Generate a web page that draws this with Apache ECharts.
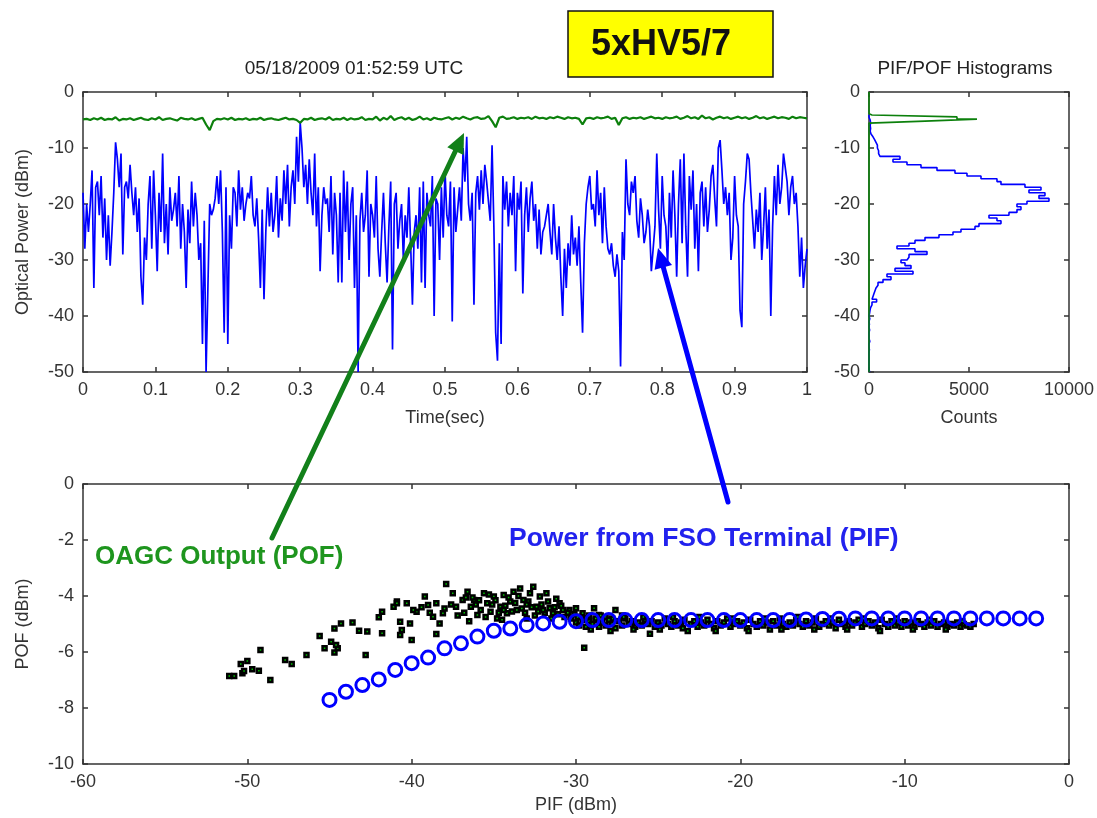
<!DOCTYPE html>
<html><head><meta charset="utf-8">
<script src="https://cdn.jsdelivr.net/npm/echarts@6/dist/echarts.min.js"></script>
<style>html,body{margin:0;padding:0;background:#fff}#c{width:1097px;height:818px}</style>
</head><body><div id="c"></div>
<script>
// ---- data ----
const timeStep = 0.0025; // sec between PIF samples
const pifTrace = [
-18,-28,-20,-25, -20,-14,-35,-17, -16,-22,-15,-26, -19,-30,-22,-31, -25,-18,-9,-12,
-17,-11,-29,-17, -16,-19,-13,-18, -22,-17,-25,-19, -33,-38,-26,-30, -20,-15,-28,-14,
-22,-32,-18,-25, -11,-27,-20,-29, -17,-23,-21,-18, -24,-15,-28,-20, -25,-35,-21,-27,
-16,-24,-18,-22, -30,-27,-45,-23, -50,-35,-20,-22, -21,-19,-15,-20, -14,-25,-43,-17,
-45,-22,-28,-17, -18,-24,-14,-21, -17,-23,-20,-18, -19,-15,-22,-24, -19,-26,-35,-21,
-37,-25,-17,-24, -18,-25,-22,-15, -26,-19,-23,-14, -20,-13,-24,-17, -14,-20,-8,-16,
-5.5,-10,-17,-13, -20,-12,-18,-22, -11,-24,-17,-32, -22,-17,-20,-19, -25,-15,-29,-18,
-22,-34,-18,-34, -14,-25,-16,-30, -20,-17,-35,-22, -50,-23,-18,-25, -22,-14,-33,-20,
-22,-26,-15,-28, -33,-25,-18,-27, -34,-24,-16,-46, -20,-18,-28,-23, -20,-30,-22,-26,
-17,-27,-38,-25, -22,-28,-17,-34, -16,-35,-18,-22, -24,-15,-40,-19, -20,-30,-17,-26,
-14,-22,-24,-16, -41,-17,-25,-21, -17,-23,-10,-16, -8,-20,-23,-18, -38,-18,-15,-21,
-14,-20,-13,-16, -16,-23,-9.5,-24, -43,-48,-27,-45, -15,-21,-16,-24, -18,-22,-15,-32,
-18,-21,-16,-36, -22,-17,-25,-19, -16,-23,-20,-28, -21,-29,-25,-24, -24,-20,-25,-29,
-20,-26,-30,-24, -33,-40,-28,-35, -27,-31,-22,-29, -26,-31,-24,-34, -43,-27,-20,-17,
-15,-21,-20,-24, -14,-22,-18,-27, -17,-24,-28,-29, -27,-31,-33,-29, -32,-49,-25,-30,
-12,-20,-22,-16, -18,-15,-23,-26, -19,-22,-27,-25, -21,-24,-32,-28, -24,-11,-21,-28,
-15,-22,-24,-31, -18,-26,-14,-22, -33,-20,-12,-27, -11,-24,-33,-15, -21,-14,-28,-20,
-32,-18,-16,-24, -17,-25,-21,-15, -13,-19,-24,-10, -8.6,-14,-20,-17, -22,-18,-30,-26,
-15,-22,-24,-39, -42,-20,-16,-11, -12,-18,-23,-28, -21,-25,-18,-30, -24,-17,-28,-21,
-40,-24,-15,-22, -13,-20,-17,-11, -11,-16,-22,-17, -15,-20,-18,-24, -33,-26,-35,-31,
-28];
const pofStep = 0.005; // sec between POF samples
const pofTrace = [
-4.9,-4.8,-5.0,-4.7,-4.9,-4.6,-5.0,-4.8,-4.9,-4.5,-5.1,-4.8,-4.9,-4.7,-5.0,-4.8,-4.6,-4.9,-5.0,-4.7,
-4.9,-4.5,-5.0,-4.8,-4.7,-4.9,-5.1,-4.6,-4.8,-4.9,-4.7,-5.0,-4.8,-4.6,-5.8,-6.8,-5.2,-4.8,-4.9,-4.7,
-4.9,-4.6,-5.0,-4.8,-4.9,-4.7,-5.0,-4.8,-4.9,-4.6,-5.0,-4.8,-4.7,-4.9,-5.0,-4.8,-4.6,-4.9,-4.8,-5.0,
-5.5,-4.8,-4.9,-4.6,-5.0,-4.8,-4.7,-4.9,-4.5,-5.0,-4.8,-4.9,-4.6,-5.0,-4.7,-4.9,-4.8,-4.5,-5.0,-4.8,
-4.9,-4.4,-5.1,-4.6,-4.9,-4.3,-5.0,-4.7,-4.5,-4.9,-4.6,-5.0,-4.8,-4.4,-4.9,-4.7,-5.0,-4.6,-4.8,-4.9,
-4.7,-4.5,-4.9,-4.6,-4.8,-4.4,-4.7,-4.9,-4.6,-4.5,-4.8,-4.7,-4.3,-5.2,-6.3,-4.6,-4.4,-4.8,-4.7,-4.5,
-4.8,-4.6,-4.7,-4.5,-4.8,-4.4,-4.7,-4.6,-4.8,-4.5,-4.7,-4.4,-4.6,-4.8,-4.5,-4.7,-4.6,-4.8,-5.8,-4.7,
-4.6,-4.8,-4.5,-4.7,-4.6,-4.4,-4.8,-4.6,-5.9,-4.7,-4.5,-4.8,-4.6,-4.7,-4.5,-4.8,-4.6,-4.4,-4.7,-4.6,
-4.8,-4.5,-4.7,-4.6,-4.4,-4.8,-4.6,-4.3,-4.7,-4.5,-4.8,-4.2,-4.7,-4.5,-4.9,-4.6,-4.4,-4.7,-4.5,-4.8,
-4.6,-4.4,-4.7,-4.5,-4.8,-4.6,-4.3,-4.7,-4.5,-4.8,-4.6,-4.4,-4.7,-4.5,-4.6,-4.8,-4.4,-4.7,-4.5,-4.6,
-4.7];
const histBins = [
-4.0,-4.5,-5.0,-5.5,-6.0,-6.5,-7.0,-7.5,-8.0,-8.5,-9.0,-9.5,-10.0,-10.5,-11.0,-11.5,-12.0,-12.5,-13.0,-13.5,
-14.0,-14.5,-15.0,-15.5,-16.0,-16.5,-17.0,-17.5,-18.0,-18.5,-19.0,-19.5,-20.0,-20.5,-21.0,-21.5,-22.0,-22.5,-23.0,-23.5,
-24.0,-24.5,-25.0,-25.5,-26.0,-26.5,-27.0,-27.5,-28.0,-28.5,-29.0,-29.5,-30.0,-30.5,-31.0,-31.5,-32.0,-32.5,-33.0,-33.5,
-34.0,-34.5,-35.0,-35.5,-36.0,-36.5,-37.0,-37.5,-38.0,-38.5,-39.0,-39.5,-40.0,-40.5,-41.0,-41.5,-42.0,-42.5,-43.0,-43.5,
-44.0,-44.5,-45.0,-45.5,-46.0,-46.5,-47.0,-47.5,-48.0,-48.5,-49.0,-49.5,-50.0];
const pifCounts = [
0,60,80,60,80,60,100,200,280,350,420,420,480,480,550,1550,1200,1900,2600,3400,
4300,4900,5600,6400,6600,7800,8600,8000,8800,8500,9000,7900,7400,7600,7400,7000,6000,6400,6600,5500,
5300,4600,4200,3500,2800,2300,2000,1400,2300,2900,2000,1900,1600,1800,2100,1300,2200,900,1100,700,
450,350,300,250,200,150,380,150,80,50,30,0,40,0,20,0,30,0,0,0,
40,0,0,20,0,0,0,0,0,0,0,30,60];
const pofHistBins = [0,-3.9,-4.1,-4.45,-4.85,-5.2,-5.55,-50];
const pofCounts = [0,0,150,4400,5400,2800,0,0];
const fitPif = [-45,-44,-43,-42,-41,-40,-39,-38,-37,-36,-35,-34,-33,-32,-31,-30,-29,-28,-27,-26,-25,-24,
-23,-22,-21,-20,-19,-18,-17,-16,-15,-14,-13,-12,-11,-10,-9,-8,-7,-6,-5,-4,-3,-2];
const fitPof = [-7.71,-7.42,-7.18,-6.98,-6.64,-6.40,-6.20,-5.87,-5.69,-5.45,-5.24,-5.16,-5.04,-4.98,-4.92,-4.90,
-4.86,-4.86,-4.86,-4.86,-4.86,-4.86,-4.86,-4.86,-4.86,-4.86,-4.86,-4.86,-4.86,-4.84,-4.82,-4.81,-4.80,-4.80,
-4.80,-4.80,-4.80,-4.80,-4.80,-4.80,-4.80,-4.80,-4.80,-4.80];
const pofScatter = [
[-51.1,-6.86],[-50.8,-6.86],[-50.4,-6.43],[-50.0,-6.32],[-50.3,-6.76],[-50.2,-6.68],[-49.7,-6.62],[-49.3,-6.67],
[-49.2,-5.93],[-48.6,-7.0],[-47.7,-6.29],[-47.3,-6.43],[-46.4,-6.11],[-45.6,-5.43],[-45.3,-5.87],[-44.9,-5.63],
[-44.7,-5.16],[-44.7,-6.02],[-44.5,-5.87],[-44.6,-5.75],[-44.3,-4.98],[-43.6,-4.95],[-43.2,-5.24],[-42.7,-5.27],
[-42.8,-6.11],[-42.0,-4.76],[-41.8,-5.33],[-41.8,-4.56],[-41.1,-4.38],[-40.9,-4.20],[-40.9,-4.26],[-40.3,-4.26],
[-40.7,-4.92],[-40.6,-5.21],[-40.7,-5.39],[-40.1,-4.98],[-40.0,-5.57],[-39.7,-4.56],[-39.9,-4.5],[-39.2,-4.02],
[-39.0,-4.32],[-38.7,-4.74],[-38.5,-4.26],[-38.5,-5.36],[-38.3,-4.98],[-38.1,-4.62],[-37.9,-3.57],[-37.5,-3.9],
[-37.3,-4.38],[-36.9,-4.14],[-36.6,-3.85],[-36.4,-4.38],[-36.2,-4.14],[-36.0,-4.68],[-35.6,-3.9],[-35.4,-4.26],
[-35.2,-4.56],[-35.0,-4.02],[-34.8,-4.8],[-34.6,-4.38],[-34.4,-3.96],[-34.2,-4.62],[-34.0,-4.20],[-33.8,-3.85],
[-33.6,-4.5],[-33.4,-3.73],[-33.2,-4.14],[-33.0,-4.8],[-32.8,-3.9],[-32.6,-3.67],[-32.4,-4.38],[-32.2,-4.02],
[-31.8,-3.9],[-31.6,-4.44],[-31.4,-4.62],[-31.0,-4.26],[-30.8,-4.5],[-30.4,-4.5],[-30.0,-4.44],[-29.6,-4.62],
[-29.4,-4.8],[-28.9,-4.44],[-28.6,-4.68],[-27.6,-4.5],[-29.5,-5.85],
[-36.8,-4.6],[-36.5,-4.9],[-36.1,-4.3],[-35.8,-4.5],[-35.5,-4.75],[-35.1,-4.3],[-34.9,-4.15],[-34.7,-4.6],
[-34.5,-4.85],[-34.3,-4.35],[-34.1,-4.05],[-33.9,-4.55],[-33.7,-4.25],[-33.5,-4.0],[-33.3,-4.45],[-33.1,-4.6],
[-32.9,-4.2],[-32.7,-4.4],[-32.5,-4.7],[-32.3,-4.55],[-32.1,-4.3],[-31.9,-4.6],[-31.7,-4.2],[-31.5,-4.8],
[-31.3,-4.4],[-31.1,-4.65],[-30.9,-4.35],[-30.7,-4.75],[-30.5,-4.6],[-30.3,-4.8],[-30.1,-4.65],[-29.8,-4.75],
[-29.2,-4.7],[-28.8,-4.85],[-28.2,-4.75],[-27.8,-4.8],[-27.2,-4.7],[-37.2,-4.7],[-37.6,-4.3],[-38.0,-4.45],
[-38.9,-4.6],[-39.4,-4.4],[-36.3,-4.05],[-35.3,-3.95],[-34.4,-4.5],[-33.0,-4.3],[-32.0,-4.5],[-31.2,-4.1],
[-35.9,-4.15],[-36.7,-4.05],
[-30,-4.95],[-29.8,-5.05],[-29.6,-4.85],[-29.4,-5.1],[-29.2,-4.9],[-29,-5.0],[-28.8,-4.8],[-28.6,-5.1],
[-28.4,-4.95],[-28.2,-5.05],[-28,-4.85],[-27.8,-5.0],[-27.6,-5.15],[-27.4,-4.9],[-27.2,-5.05],[-27,-4.8],
[-26.8,-5.0],[-26.6,-4.9],[-26.4,-5.1],[-26.2,-4.95],[-26,-5.05],[-25.8,-4.85],[-25.6,-5.0],[-25.5,-5.35],
[-25.4,-4.9],[-25.2,-5.1],[-25,-4.95],[-24.8,-5.05],[-24.6,-4.8],[-24.4,-5.0],[-24.2,-5.1],[-24,-4.9],
[-23.8,-5.05],[-23.6,-4.95],[-23.4,-4.85],[-23.2,-5.25],[-23,-5.0],[-22.8,-4.9],[-22.6,-5.1],[-22.4,-4.95],
[-22.2,-5.05],[-22,-4.85],[-21.8,-5.0],[-21.6,-5.15],[-21.4,-4.9],[-21.2,-5.05],[-21,-4.95],[-20.8,-4.8],
[-20.6,-5.1],[-20.4,-5.0],[-20.2,-4.9],[-20,-5.05],[-19.8,-4.95],[-19.6,-5.15],[-19.4,-4.85],[-19.2,-5.0],
[-19,-5.1],[-18.8,-4.9],[-18.6,-5.05],[-18.4,-4.95],[-18.2,-5.2],[-18,-4.9],[-17.8,-5.05],[-17.6,-4.8],
[-17.4,-5.0],[-17.2,-5.1],[-17,-4.95],[-16.8,-5.05],[-16.6,-4.85],[-16.4,-5.0],[-16.2,-5.1],[-16,-4.9],
[-15.8,-5.05],[-15.6,-4.95],[-15.4,-4.8],[-15.2,-5.1],[-15,-5.0],[-14.8,-4.9],[-14.6,-5.05],[-14.4,-4.95],
[-14.2,-5.15],[-14,-4.85],[-13.8,-5.0],[-13.6,-5.1],[-13.4,-4.9],[-13.2,-5.05],[-13,-4.95],[-12.8,-4.85],
[-12.6,-5.1],[-12.4,-5.0],[-12.2,-4.9],[-12,-5.05],[-11.8,-4.95],[-11.6,-5.15],[-11.4,-4.85],[-11.2,-5.0],
[-11,-5.1],[-10.8,-4.9],[-10.6,-5.05],[-10.4,-4.95],[-10.2,-5.1],[-10,-4.9],[-9.8,-5.05],[-9.6,-4.95],
[-9.4,-5.1],[-9.2,-4.9],[-9,-5.0],[-8.8,-5.1],[-8.6,-4.95],[-8.4,-5.05],[-8.2,-4.9],[-8,-5.1],
[-7.8,-5.0],[-7.6,-4.95],[-7.4,-5.1],[-7.2,-5.0],[-7,-5.05],[-6.8,-4.95],[-6.6,-5.1],[-6.4,-5.0],
[-6.2,-5.05],[-6,-5.1],[-5.8,-5.0],
[-29.9,-4.75],[-29.1,-5.2],[-28.5,-4.7],[-27.9,-5.25],[-27.1,-4.75],[-26.5,-5.2],[-25.9,-4.75],[-24.9,-5.2],
[-24.1,-4.75],[-23.5,-5.15],[-22.5,-4.75],[-21.5,-5.25],[-20.5,-4.8],[-19.5,-5.25],[-18.5,-4.8],[-17.5,-5.2],
[-16.5,-4.75],[-15.5,-5.2],[-14.5,-4.8],[-13.5,-5.2],[-12.5,-4.8],[-11.5,-5.25],[-10.5,-4.8],[-9.5,-5.2],
[-8.5,-4.85],[-7.5,-5.2],[-6.5,-4.9]];

// ---- chart ----
const FONT = '"Liberation Sans", Arial, sans-serif';
const INK = '#333';
const FS = 18;
function axis(type, grid, o) {
  const mirror = !!o.mirror;
  return {
    type: 'value', gridIndex: grid, position: o.position,
    min: o.min, max: o.max, interval: o.interval,
    name: o.name || '', nameLocation: 'middle', nameGap: o.nameGap || 30,
    nameTextStyle: {color: INK, fontFamily: FONT, fontSize: FS},
    axisLine: {show: true, onZero: false, lineStyle: {color: INK, width: 1.5}},
    axisTick: {show: true, inside: true, length: 5, lineStyle: {color: INK, width: 1.5}},
    splitLine: {show: false},
    axisLabel: {show: !mirror, color: INK, fontFamily: FONT, fontSize: FS, margin: o.margin || 9,
      formatter: v => String(v)},
    axisPointer: {show: false}
  };
}
const grids = [
  {left: 83, top: 92, width: 724, height: 280},
  {left: 869, top: 92, width: 200, height: 280},
  {left: 83, top: 484, width: 986, height: 280}
];
const xAxes = [
  axis('x', 0, {position: 'bottom', min: 0, max: 1, interval: 0.1, name: 'Time(sec)', nameGap: 37, margin: 9}),
  axis('x', 0, {position: 'top', min: 0, max: 1, interval: 0.1, mirror: true}),
  axis('x', 1, {position: 'bottom', min: 0, max: 10000, interval: 5000, name: 'Counts', nameGap: 37, margin: 9}),
  axis('x', 1, {position: 'top', min: 0, max: 10000, interval: 5000, mirror: true}),
  axis('x', 2, {position: 'bottom', min: -60, max: 0, interval: 10, name: 'PIF (dBm)', nameGap: 32, margin: 9}),
  axis('x', 2, {position: 'top', min: -60, max: 0, interval: 10, mirror: true})
];
const yAxes = [
  axis('y', 0, {position: 'left', min: -50, max: 0, interval: 10, name: 'Optical Power (dBm)', nameGap: 51}),
  axis('y', 0, {position: 'right', min: -50, max: 0, interval: 10, mirror: true}),
  axis('y', 1, {position: 'left', min: -50, max: 0, interval: 10}),
  axis('y', 1, {position: 'right', min: -50, max: 0, interval: 10, mirror: true}),
  axis('y', 2, {position: 'left', min: -10, max: 0, interval: 2, name: 'POF (dBm)', nameGap: 51}),
  axis('y', 2, {position: 'right', min: -10, max: 0, interval: 2, mirror: true})
];

function arrow(sx, sy, tx, ty, color, w) {
  const dx = tx - sx, dy = ty - sy, L = Math.hypot(dx, dy);
  const ux = dx / L, uy = dy / L, nx = -uy, ny = ux;
  const hl = 20, hw = 9;
  const bx = tx - ux * hl, by = ty - uy * hl;
  return [
    {type: 'line', z: 100, shape: {x1: sx, y1: sy, x2: bx + ux * 2, y2: by + uy * 2},
     style: {stroke: color, lineWidth: w, lineCap: 'round'}},
    {type: 'polygon', z: 100, shape: {points: [[tx, ty], [bx + nx * hw, by + ny * hw], [bx - nx * hw, by - ny * hw]]},
     style: {fill: color}}
  ];
}

const graphic = [
  {type: 'text', z: 50, x: 354, y: 69, style: {text: '05/18/2009 01:52:59 UTC', align: 'center', verticalAlign: 'middle',
    font: '19px ' + FONT, fill: '#222'}},
  {type: 'text', z: 50, x: 965, y: 69, style: {text: 'PIF/POF Histograms', align: 'center', verticalAlign: 'middle',
    font: '19px ' + FONT, fill: '#222'}},
  {type: 'rect', z: 50, shape: {x: 568, y: 11, width: 205, height: 66}, style: {fill: '#ffff00', stroke: '#111', lineWidth: 1.5}},
  {type: 'text', z: 51, x: 661, y: 45, style: {text: '5xHV5/7', align: 'center', verticalAlign: 'middle',
    font: 'bold 36px ' + FONT, fill: '#111'}},
  {type: 'text', z: 100, x: 95, y: 557, style: {text: 'OAGC Output (POF)', align: 'left', verticalAlign: 'middle',
    font: 'bold 26px ' + FONT, fill: '#1e951e'}},
  {type: 'text', z: 100, x: 509, y: 539, style: {text: 'Power from FSO Terminal (PIF)', align: 'left', verticalAlign: 'middle',
    font: 'bold 26.5px ' + FONT, fill: '#2222ee'}}
].concat(arrow(272, 538, 464, 133, '#12801a', 5), arrow(728, 502, 658, 248, '#0000ff', 5));

const series = [
  {type: 'line', xAxisIndex: 0, yAxisIndex: 0, showSymbol: false, z: 2,
   data: pifTrace.map((v, i) => [i * timeStep, v]), lineStyle: {color: '#0000ff', width: 1.7}},
  {type: 'line', xAxisIndex: 0, yAxisIndex: 0, showSymbol: false, z: 3,
   data: pofTrace.map((v, i) => [i * pofStep, v]), lineStyle: {color: '#0c800c', width: 2.2}},
  {type: 'line', xAxisIndex: 2, yAxisIndex: 2, showSymbol: false, step: 'start', z: 2,
   data: histBins.map((b, i) => [pifCounts[i], b]), lineStyle: {color: '#0000ff', width: 1.6}},
  {type: 'line', xAxisIndex: 2, yAxisIndex: 2, showSymbol: false, step: 'start', z: 3,
   data: pofHistBins.map((b, i) => [pofCounts[i], b]), lineStyle: {color: '#0c800c', width: 1.6}},
  {type: 'scatter', xAxisIndex: 4, yAxisIndex: 4, symbol: 'rect', symbolSize: 4, z: 2,
   data: pofScatter, itemStyle: {color: '#00c000', borderColor: '#000', borderWidth: 2.5, opacity: 1}},
  {type: 'scatter', xAxisIndex: 4, yAxisIndex: 4, symbol: 'circle', symbolSize: 13, z: 3,
   data: fitPif.map((x, i) => [x, fitPof[i]]),
   itemStyle: {color: 'rgba(0,0,0,0)', borderColor: '#0000ff', borderWidth: 3, opacity: 1}}
];

const chart = echarts.init(document.getElementById('c'), null, {renderer: 'canvas'});
chart.setOption({
  animation: false, backgroundColor: '#fff',
  grid: grids, xAxis: xAxes, yAxis: yAxes, series: series, graphic: graphic
});
</script></body></html>
